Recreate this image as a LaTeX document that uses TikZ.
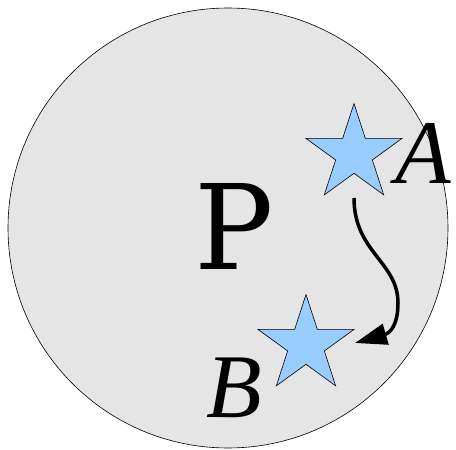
\documentclass[tikz,border=0pt]{standalone}
\usepackage{fontspec}
\setmainfont{DejaVu Serif}
\newfontfamily\letterfont{Liberation Serif}
\usetikzlibrary{shapes.geometric, arrows.meta}
\definecolor{regiongray}{RGB}{229,229,229}
\definecolor{starblue}{RGB}{153,204,255}

\begin{document}
\begin{tikzpicture}[x=1pt, y=-1pt,
    pointstar/.style={star, star points=5, star point ratio=2.618, minimum size=101pt,
          inner sep=0pt, fill=starblue, draw=black, line width=0.6pt},
    pointlabel/.style={anchor=base, inner sep=0pt, font=\letterfont\itshape\fontsize{91}{91}\selectfont}]
    \useasboundingbox (0,0) rectangle (456,450);
    \node[circle, minimum size=440pt, inner sep=0pt, fill=regiongray, draw=black, line width=0.6pt] (region) at (228,228) {};
    \node[anchor=base, inner sep=0pt, font=\fontsize{118}{118}\selectfont] (plabel) at (234,269) {P};
    \node[pointstar] (stara) at (354,154) {};
    \node[pointstar] (starb) at (306,345) {};
    \node[pointlabel] (labela) at (423,183) {A};
    \node[pointlabel] (labelb) at (234,417) {B};
    \coordinate (depart) at (354,198);
    \coordinate (arrive) at (355,343);
    \draw[line width=3.5pt, -{Triangle[length=32pt, width=21pt]}] (depart)
        .. controls (354,252) and (398,262) .. (398,303)
        .. controls (398,325) and (390,333) .. (arrive);
\end{tikzpicture}
\end{document}
